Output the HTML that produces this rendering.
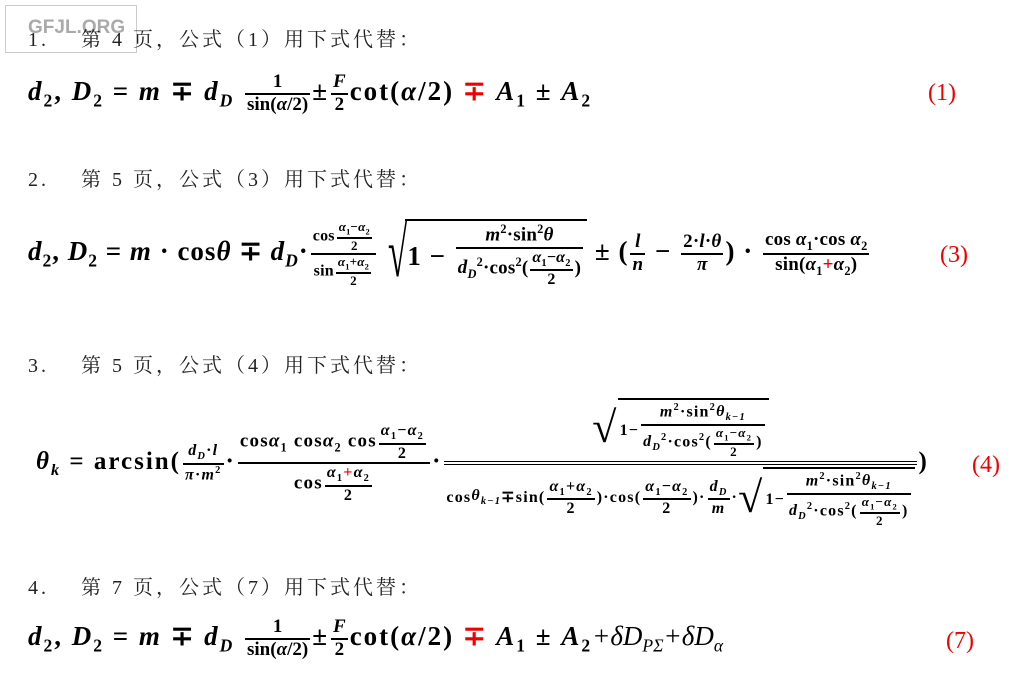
<!DOCTYPE html>
<html><head><meta charset="utf-8"><style>
body{margin:0;width:1020px;height:680px;background:#fff;position:relative;overflow:hidden;font-family:"Liberation Serif","Noto Serif CJK SC",serif;color:#000}
.h{position:absolute;left:28px;font-size:20px;line-height:24px;white-space:nowrap;letter-spacing:3px;color:#222}
.f{position:absolute;left:28px;white-space:nowrap;font-family:"Liberation Serif",serif;font-weight:bold;font-size:27px;letter-spacing:2px}
.f i{font-style:italic}
.fr{display:inline-flex;flex-direction:column;align-items:center;vertical-align:middle;margin:0 2px;letter-spacing:0}
.fr>.n{padding:0 2px;line-height:1.1}
.fr>.d{border-top:2px solid #000;padding:0 2px;line-height:1.1;align-self:stretch;text-align:center}
.s{font-size:19px}.xs{font-size:16px}.xxs{font-size:13px}
.f2{letter-spacing:1px}
.f2 .fr{letter-spacing:.2px}
.f4 .fr{letter-spacing:1.2px}
.r{color:#e00}
.num{position:absolute;color:#e00;font-size:24px;font-family:"Liberation Serif",serif}
.sq{display:inline-flex;align-items:center;vertical-align:middle}
.sq>.b{border-top:2px solid #000;padding:2px 2px 0}
sub,sup{font-size:65%}
</style></head><body>
<div style="position:absolute;left:5px;top:5px;width:130px;height:46px;border:1px solid #ccc"></div>
<div style="position:absolute;left:28px;top:17px;font-family:'Liberation Sans',sans-serif;font-weight:bold;font-size:19px;color:#aaa">GFJL.ORG</div>
<div class="h" style="top:28px">1.&nbsp;&nbsp;&nbsp; 第 4 页，公式（1）用下式代替：</div>
<div class="h" style="top:168px">2.&nbsp;&nbsp;&nbsp; 第 5 页，公式（3）用下式代替：</div>
<div class="h" style="top:354px">3.&nbsp;&nbsp;&nbsp; 第 5 页，公式（4）用下式代替：</div>
<div class="h" style="top:576px">4.&nbsp;&nbsp;&nbsp; 第 7 页，公式（7）用下式代替：</div>

<div class="f" style="top:72px"><i>d</i><sub>2</sub>,&nbsp;<i>D</i><sub>2</sub>&nbsp;=&nbsp;<i>m</i>&nbsp;∓&nbsp;<i>d<sub>D</sub></i>
<span class="fr s"><span class="n">1</span><span class="d">sin(<i>α</i>/2)</span></span>±<span class="fr s"><span class="n"><i>F</i></span><span class="d">2</span></span>cot(<i>α</i>/2)&nbsp;<span class="r">∓</span>&nbsp;<i>A</i><sub>1</sub>&nbsp;±&nbsp;<i>A</i><sub>2</sub></div>
<div class="num" style="left:928px;top:80px">(1)</div>

<div class="f f2" style="top:214px"><i>d</i><sub>2</sub>,&nbsp;<i>D</i><sub>2</sub>&nbsp;=&nbsp;<i>m</i>&nbsp;·&nbsp;cos<i>θ</i>&nbsp;∓&nbsp;<i>d<sub>D</sub></i>·<span class="fr xs"><span class="n">cos<span class="fr xxs"><span class="n"><i>α</i><sub>1</sub>−<i>α</i><sub>2</sub></span><span class="d">2</span></span></span><span class="d">sin<span class="fr xxs"><span class="n"><i>α</i><sub>1</sub>+<i>α</i><sub>2</sub></span><span class="d">2</span></span></span></span><span class="sq"><span style="font-size:70px;font-weight:normal;transform:scaleX(.5);margin-right:-12px">√</span><span class="b" style="display:inline-flex;align-items:center">1&nbsp;−&nbsp;<span class="fr s"><span class="n"><i>m</i><sup>2</sup>·sin<sup>2</sup><i>θ</i></span><span class="d"><i>d<sub>D</sub></i><sup>2</sup>·cos<sup>2</sup>(<span class="fr xs"><span class="n"><i>α</i><sub>1</sub>−<i>α</i><sub>2</sub></span><span class="d">2</span></span>)</span></span></span></span>&nbsp;±&nbsp;(<span class="fr s"><span class="n"><i>l</i></span><span class="d"><i>n</i></span></span>&nbsp;−&nbsp;<span class="fr s"><span class="n">2·<i>l</i>·<i>θ</i></span><span class="d"><i>π</i></span></span>)&nbsp;·&nbsp;<span class="fr s"><span class="n">cos <i>α</i><sub>1</sub>·cos <i>α</i><sub>2</sub></span><span class="d">sin(<i>α</i><sub>1</sub><span class="r">+</span><i>α</i><sub>2</sub>)</span></span></div>
<div class="num" style="left:940px;top:242px">(3)</div>

<div class="f f4" style="top:398px;font-size:25px;left:36px"><i>θ<sub>k</sub></i>&nbsp;=&nbsp;arcsin(<span class="fr xs"><span class="n"><i>d<sub>D</sub></i>·<i>l</i></span><span class="d"><i>π</i>·<i>m</i><sup>2</sup></span></span>·<span class="fr s"><span class="n">cos<i>α</i><sub>1</sub> cos<i>α</i><sub>2</sub> cos<span class="fr xs"><span class="n"><i>α</i><sub>1</sub>−<i>α</i><sub>2</sub></span><span class="d">2</span></span></span><span class="d">cos<span class="fr xs"><span class="n"><i>α</i><sub>1</sub><span class="r">+</span><i>α</i><sub>2</sub></span><span class="d">2</span></span></span></span>·<span class="fr xs"><span class="n" style="display:flex;justify-content:center;padding-bottom:2px"><span class="sq"><span style="font-size:44px;font-weight:normal">√</span><span class="b" style="display:inline-flex;align-items:center">1−<span class="fr xs"><span class="n"><i>m</i><sup>2</sup>·sin<sup>2</sup><i>θ<sub>k−1</sub></i></span><span class="d"><i>d<sub>D</sub></i><sup>2</sup>·cos<sup>2</sup>(<span class="fr xxs"><span class="n"><i>α</i><sub>1</sub>−<i>α</i><sub>2</sub></span><span class="d">2</span></span>)</span></span></span></span></span><span class="d" style="border-top:4px double #000;display:flex;align-items:center;padding-top:2px">cos<i>θ<sub>k−1</sub></i>∓sin(<span class="fr xs"><span class="n"><i>α</i><sub>1</sub>+<i>α</i><sub>2</sub></span><span class="d">2</span></span>)·cos(<span class="fr xs"><span class="n"><i>α</i><sub>1</sub>−<i>α</i><sub>2</sub></span><span class="d">2</span></span>)·<span class="fr xs"><span class="n"><i>d<sub>D</sub></i></span><span class="d"><i>m</i></span></span>·<span class="sq"><span style="font-size:44px;font-weight:normal">√</span><span class="b" style="display:inline-flex;align-items:center">1−<span class="fr xs"><span class="n"><i>m</i><sup>2</sup>·sin<sup>2</sup><i>θ<sub>k−1</sub></i></span><span class="d"><i>d<sub>D</sub></i><sup>2</sup>·cos<sup>2</sup>(<span class="fr xxs"><span class="n"><i>α</i><sub>1</sub>−<i>α</i><sub>2</sub></span><span class="d">2</span></span>)</span></span></span></span></span></span>)</div>
<div class="num" style="left:972px;top:452px">(4)</div>

<div class="f" style="top:617px"><i>d</i><sub>2</sub>,&nbsp;<i>D</i><sub>2</sub>&nbsp;=&nbsp;<i>m</i>&nbsp;∓&nbsp;<i>d<sub>D</sub></i>
<span class="fr s"><span class="n">1</span><span class="d">sin(<i>α</i>/2)</span></span>±<span class="fr s"><span class="n"><i>F</i></span><span class="d">2</span></span>cot(<i>α</i>/2)&nbsp;<span class="r">∓</span>&nbsp;<i>A</i><sub>1</sub>&nbsp;±&nbsp;<i>A</i><sub>2</sub><span style="font-weight:normal;font-style:italic;letter-spacing:0">+δD<sub>PΣ</sub>+δD<sub>α</sub></span></div>
<div class="num" style="left:946px;top:628px">(7)</div>
</body></html>
